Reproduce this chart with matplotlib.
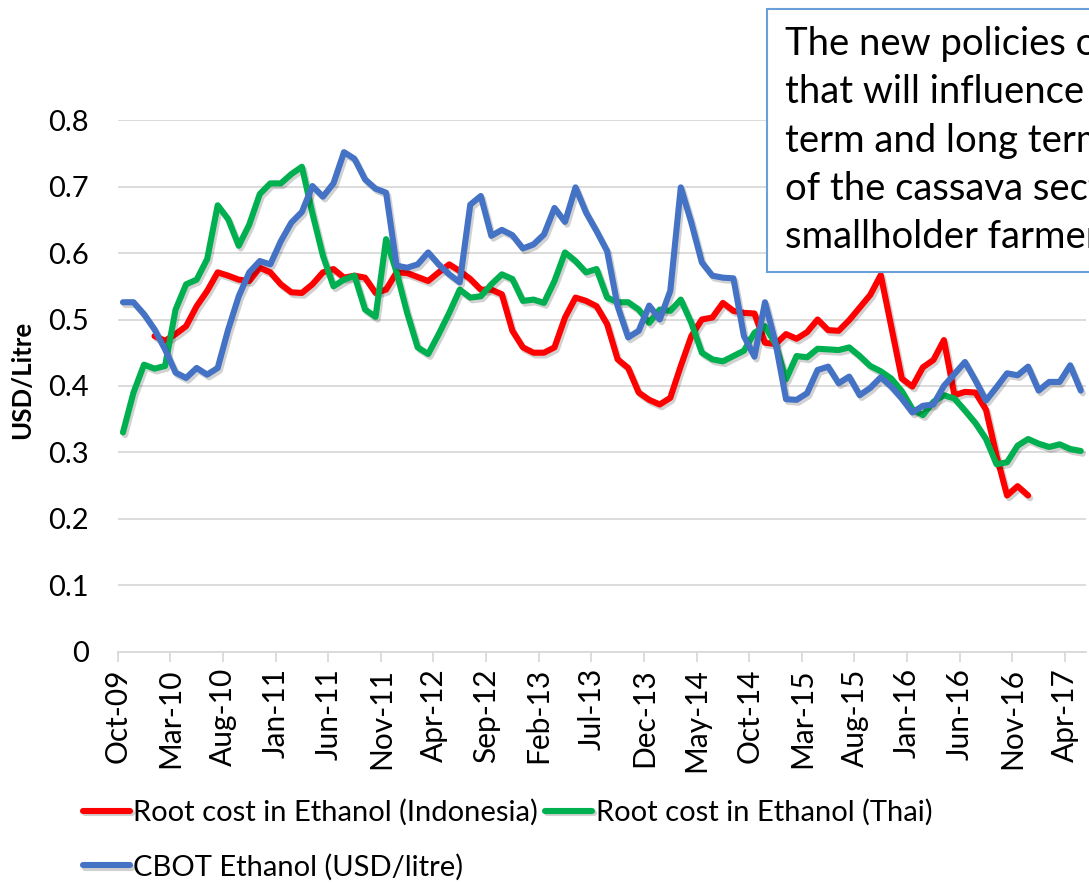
import numpy as np
import pandas as pd
import matplotlib
matplotlib.use('Agg')
import matplotlib.pyplot as plt
import matplotlib.patheffects as pe
from matplotlib.patches import Rectangle

plt.rcParams['font.family'] = ['Lato', 'DejaVu Sans']

# monthly categories Oct-09 .. May-17
months = pd.date_range('2009-10-01', periods=92, freq='MS').strftime('%b-%y').tolist()

# Root cost in Ethanol (Indonesia), starts Jan-10, ends Dec-16
indo_start = 'Jan-10'
indonesia = [0.475, 0.468, 0.478, 0.49, 0.52, 0.543, 0.571, 0.566, 0.56, 0.558,
             0.578, 0.571, 0.553, 0.541, 0.540, 0.553, 0.571, 0.576, 0.563, 0.566,
             0.563, 0.54, 0.545, 0.571, 0.57, 0.564, 0.558, 0.571, 0.583, 0.573,
             0.561, 0.545, 0.545, 0.538, 0.483, 0.458, 0.45, 0.45, 0.458, 0.503,
             0.533, 0.528, 0.52, 0.493, 0.44, 0.427, 0.39, 0.379, 0.372, 0.382,
             0.43, 0.475, 0.5, 0.503, 0.525, 0.513, 0.51, 0.509, 0.465, 0.463,
             0.478, 0.471, 0.481, 0.5, 0.484, 0.483, 0.499, 0.518, 0.537, 0.567,
             0.489, 0.411, 0.399, 0.428, 0.439, 0.469, 0.386, 0.391, 0.39, 0.364,
             0.295, 0.235, 0.249, 0.235]

# Root cost in Ethanol (Thai), Oct-09 .. May-17
thai = [0.33, 0.39, 0.432, 0.426, 0.43, 0.515, 0.553, 0.56, 0.591, 0.672,
        0.651, 0.611, 0.643, 0.689, 0.705, 0.705, 0.719, 0.730, 0.66, 0.596,
        0.55, 0.56, 0.566, 0.515, 0.504, 0.621, 0.571, 0.51, 0.458, 0.448,
        0.478, 0.51, 0.545, 0.533, 0.535, 0.553, 0.568, 0.561, 0.528, 0.53,
        0.525, 0.558, 0.601, 0.588, 0.571, 0.576, 0.533, 0.526, 0.526, 0.515,
        0.495, 0.515, 0.513, 0.53, 0.495, 0.45, 0.44, 0.437, 0.445, 0.453,
        0.48, 0.49, 0.463, 0.41, 0.445, 0.443, 0.456, 0.455, 0.454, 0.458,
        0.445, 0.43, 0.422, 0.411, 0.392, 0.365, 0.356, 0.376, 0.386, 0.381,
        0.363, 0.344, 0.32, 0.282, 0.285, 0.31, 0.32, 0.313, 0.308, 0.312,
        0.305, 0.302]

# CBOT Ethanol (USD/litre), Oct-09 .. May-17
cbot = [0.526, 0.526, 0.508, 0.485, 0.455, 0.42, 0.412, 0.427, 0.417, 0.427,
        0.485, 0.535, 0.571, 0.588, 0.583, 0.618, 0.646, 0.662, 0.701, 0.685,
        0.705, 0.752, 0.742, 0.711, 0.697, 0.691, 0.581, 0.578, 0.583, 0.601,
        0.583, 0.568, 0.556, 0.673, 0.686, 0.626, 0.635, 0.627, 0.607, 0.613,
        0.628, 0.668, 0.647, 0.699, 0.661, 0.633, 0.603, 0.52, 0.473, 0.483,
        0.521, 0.5, 0.543, 0.699, 0.646, 0.586, 0.566, 0.563, 0.562, 0.475,
        0.444, 0.526, 0.465, 0.38, 0.379, 0.389, 0.424, 0.429, 0.404, 0.414,
        0.386, 0.397, 0.413, 0.399, 0.381, 0.36, 0.37, 0.372, 0.40, 0.418,
        0.436, 0.408, 0.378, 0.398, 0.419, 0.416, 0.429, 0.393, 0.406, 0.406,
        0.431, 0.393]

labels = ['Root cost in Ethanol (Indonesia)', 'Root cost in Ethanol (Thai)',
          'CBOT Ethanol (USD/litre)']
yticks = [0, 0.1, 0.2, 0.3, 0.4, 0.5, 0.6, 0.7, 0.8]

note_lines = ['The new policies of', 'that will influence', 'term and long term',
              'of the cassava sector', 'smallholder farmers']

W, H = 1089, 885
fig = plt.figure(figsize=(W / 100, H / 100), dpi=100)
ax = fig.add_axes([117.7 / W, 233.5 / H, 968.3 / W, 531.2 / H])

shadow = [pe.SimpleLineShadow(offset=(1.5, -2), shadow_color='black', alpha=0.18), pe.Normal()]
i0 = months.index(indo_start)
x_indo = np.arange(i0, i0 + len(indonesia)) + 0.5
x_all = np.arange(len(thai)) + 0.5

kw = dict(lw=4.4, solid_joinstyle='round', solid_capstyle='round', path_effects=shadow)
l1, = ax.plot(x_indo, indonesia, color='#FF0000', zorder=3, **kw)
l2, = ax.plot(x_all, thai, color='#00B050', zorder=4, **kw)
l3, = ax.plot(x_all, cbot, color='#4472C4', zorder=5, **kw)

ax.set_xlim(0, len(months))
ax.set_ylim(0, 0.8)
ax.set_yticks(yticks)
ax.set_yticklabels(['0'] + [f'{v:.1f}' for v in yticks[1:]])
ax.set_xticks(range(0, len(months), 5))
ax.set_xticklabels(months[::5], rotation=90, va='top', ha='center')
ax.grid(axis='y', color='#D9D9D9', lw=1.3)
ax.set_axisbelow(True)
for s in ['top', 'right', 'left']:
    ax.spines[s].set_visible(False)
ax.spines['bottom'].set_color('#D9D9D9')
ax.spines['bottom'].set_linewidth(1.3)
ax.tick_params(axis='y', length=0, pad=21, labelsize=21)
ax.tick_params(axis='x', length=7, width=1.3, color='#D9D9D9', pad=5, labelsize=21.5)

fig.text(22 / W, 1 - 380 / H, 'USD/Litre', rotation=90, ha='center', va='center',
         fontsize=18.5, fontweight='bold')

fig.legend([l1, l3, l2], [labels[0], labels[2], labels[1]], ncol=2, frameon=False,
           loc='upper left', bbox_to_anchor=(83 / W, 1 - 799 / H), borderpad=0,
           borderaxespad=0, fontsize=21, handlelength=1.6, handletextpad=0.12,
           columnspacing=0.25, labelspacing=0.95)

fig.patches.append(Rectangle((767 / W, 1 - 272 / H), 500 / W, 263 / H,
                             transform=fig.transFigure, fc='white', ec='#6A9FD8',
                             lw=1.5, zorder=10))
for k, line in enumerate(note_lines):
    fig.text(785 / W, 1 - (55 + 48.3 * k) / H, line, fontsize=27.5, va='baseline',
             ha='left', zorder=11)

fig.savefig('out.png', dpi=100)
